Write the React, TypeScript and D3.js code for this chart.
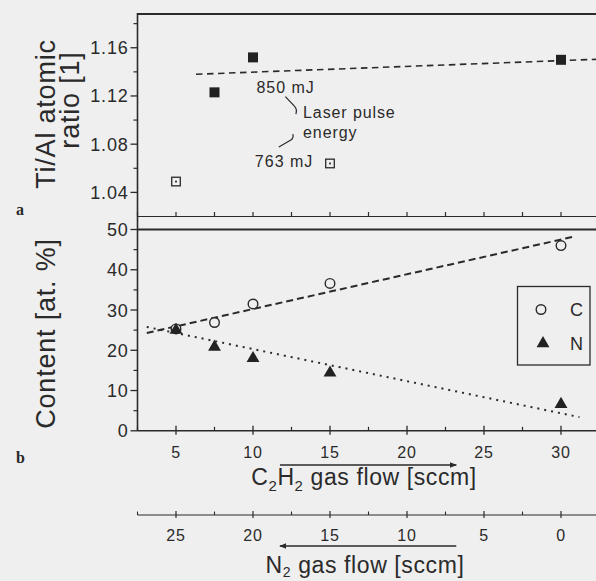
import React from "react";
import * as d3 from "d3";

// ---------- data ----------
// Panel a: Ti/Al atomic ratio vs C2H2 gas flow
const ratioFlow = [5, 7.5, 10, 15, 30];
const ratioValues = [1.049, 1.123, 1.152, 1.064, 1.15];
const ratioEnergy = [763, 850, 850, 763, 850]; // laser pulse energy [mJ]
const ratioFitFlow = [6.3, 32.5];
const ratioFitValues = [1.138, 1.1505];
const ratioMajorTicks = [1.04, 1.08, 1.12, 1.16];
const ratioMinorTicks = [1.06, 1.1, 1.14, 1.18];

// Panel b: C and N content vs C2H2 gas flow
const c2h2Flow = [5, 7.5, 10, 15, 30];
const carbonContent = [25.3, 26.9, 31.5, 36.6, 46];
const nitrogenContent = [25, 20.8, 18, 14.4, 6.6];
const carbonFitFlow = [3.1, 30.8];
const carbonFitValues = [24.3, 48.2];
const nitrogenFitFlow = [3.1, 31.2];
const nitrogenFitValues = [25.8, 3.4];
const contentMajorTicks = [0, 10, 20, 30, 40, 50];
const contentMinorTicks = [5, 15, 25, 35, 45];
const c2h2MajorTicks = [5, 10, 15, 20, 25, 30];
const c2h2MinorTicks = [2.5, 7.5, 12.5, 17.5, 22.5, 27.5, 32.5];
const n2MajorTicks = [25, 20, 15, 10, 5, 0];
const n2MinorTicks = [27.5, 22.5, 17.5, 12.5, 7.5, 2.5];
const totalFlow = 30; // C2H2 + N2 = 30 sccm

const INK = "#2a2a2a";
const BG = "#efefef";
const FONT = "'Liberation Sans', Arial, sans-serif";

export default function App() {
  const W = 596;
  const H = 581;

  const x = d3.scaleLinear().domain([2.5, 32.5]).range([137.5, 599.5]);
  const xN2 = (v: number) => x(totalFlow - v);
  const yTop = d3.scaleLinear().domain([1.02, 1.188]).range([216.5, 14]);
  const yBot = d3.scaleLinear().domain([0, 50]).range([430.8, 229.5]);

  const left = x(2.5);
  const right = 600;
  const topPanelBottom = 216.5;
  const botPanelTop = yBot(50);
  const botAxisY = yBot(0);
  const n2AxisY = 515;

  const line = d3.line<[number, number]>();
  const topFit = line(ratioFitFlow.map((f, i) => [x(f), yTop(ratioFitValues[i])] as [number, number]));
  const cFit = line(carbonFitFlow.map((f, i) => [x(f), yBot(carbonFitValues[i])] as [number, number]));
  const nFit = line(nitrogenFitFlow.map((f, i) => [x(f), yBot(nitrogenFitValues[i])] as [number, number]));

  const tri = d3.symbol(d3.symbolTriangle, 72)() as string;

  const tickText = { fontFamily: FONT, fill: INK, letterSpacing: 0.8 } as const;

  // annotation anchors (data coordinates)
  const a850 = { x: x(10.22), y: yTop(1.1223) };
  const a763 = { x: x(10.12), y: yTop(1.061) };
  const aLaser = { x: x(13.25), y: yTop(1.1014) };

  return (
    <svg
      width={W}
      height={H}
      viewBox={`0 0 ${W} ${H}`}
      style={{ position: "absolute", left: 0, top: 0, background: BG }}
    >
      <rect x={0} y={0} width={W} height={H} fill={BG} />

      {/* ===== Panel a frame ===== */}
      <line x1={left} x2={right} y1={14} y2={14} stroke={INK} strokeWidth={2} />
      <line x1={left} x2={right} y1={topPanelBottom} y2={topPanelBottom} stroke={INK} strokeWidth={1.2} />
      <line x1={left} x2={left} y1={13} y2={botAxisY} stroke={INK} strokeWidth={1.6} />
      {c2h2MajorTicks.concat(c2h2MinorTicks).map((t) => (
        <line key={"ta" + t} x1={x(t)} x2={x(t)} y1={topPanelBottom} y2={topPanelBottom - 4.5} stroke={INK} strokeWidth={1.2} />
      ))}
      {ratioMajorTicks.map((t) => (
        <g key={"rm" + t}>
          <line x1={left - 7} x2={left} y1={yTop(t)} y2={yTop(t)} stroke={INK} strokeWidth={1.3} />
          <text x={128.5} y={yTop(t)} dy="0.36em" textAnchor="end" fontSize={18} {...tickText}>
            {t.toFixed(2)}
          </text>
        </g>
      ))}
      {ratioMinorTicks.map((t) => (
        <line key={"rn" + t} x1={left - 4} x2={left} y1={yTop(t)} y2={yTop(t)} stroke={INK} strokeWidth={1.2} />
      ))}

      {/* Panel a fit + points */}
      <path d={topFit || ""} fill="none" stroke={INK} strokeWidth={1.6} strokeDasharray="6.5,4.5" />
      {ratioFlow.map((f, i) => {
        const cx = x(f);
        const cy = yTop(ratioValues[i]);
        return ratioEnergy[i] === 850 ? (
          <rect key={"rp" + i} x={cx - 5} y={cy - 5} width={10} height={10} fill="#222" />
        ) : (
          <g key={"rp" + i}>
            <rect x={cx - 4.3} y={cy - 4.3} width={8.6} height={8.6} fill="none" stroke={INK} strokeWidth={1.3} />
            <rect x={cx - 0.9} y={cy - 0.9} width={1.8} height={1.8} fill={INK} />
          </g>
        );
      })}

      {/* annotations */}
      <text x={a850.x} y={a850.y} fontSize={16} fontFamily={FONT} fill={INK} letterSpacing={1}>
        850 mJ
      </text>
      <text x={a763.x} y={a763.y} fontSize={16} fontFamily={FONT} fill={INK} letterSpacing={1}>
        763 mJ
      </text>
      <text x={aLaser.x} y={aLaser.y} fontSize={16} fontFamily={FONT} fill={INK} letterSpacing={0.9}>
        Laser pulse
      </text>
      <text x={aLaser.x} y={aLaser.y + 20} fontSize={16} fontFamily={FONT} fill={INK} letterSpacing={0.9}>
        energy
      </text>
      <path
        d={`M${a850.x + 29},${a850.y + 3.5} L${a850.x + 38},${a850.y + 13} Q${a850.x + 41},${a850.y + 16} ${a850.x + 39.5},${a850.y + 21}`}
        fill="none"
        stroke={INK}
        strokeWidth={1.2}
      />
      <path
        d={`M${a763.x + 24},${a763.y - 20} L${a763.x + 36},${a763.y - 27} Q${a763.x + 39},${a763.y - 29} ${a763.x + 38},${a763.y - 33}`}
        fill="none"
        stroke={INK}
        strokeWidth={1.2}
      />

      <text x={16} y={215} fontSize={16} fontWeight="bold" fontFamily="'Liberation Serif', serif" fill={INK}>
        a
      </text>

      {/* Panel a y label */}
      <text
        transform={`translate(55,114) rotate(-90)`}
        textAnchor="middle"
        fontSize={27}
        fontFamily={FONT}
        fill={INK}
        letterSpacing={0.8}
      >
        Ti/Al atomic
      </text>
      <text
        transform={`translate(78.5,100) rotate(-90)`}
        textAnchor="middle"
        fontSize={27}
        fontFamily={FONT}
        fill={INK}
        letterSpacing={0.8}
      >
        ratio [1]
      </text>

      {/* ===== Panel b frame ===== */}
      <line x1={left} x2={right} y1={botPanelTop} y2={botPanelTop} stroke={INK} strokeWidth={2.2} />
      <line x1={left} x2={right} y1={botAxisY} y2={botAxisY} stroke={INK} strokeWidth={1.5} />
      {contentMajorTicks.map((t) => (
        <g key={"cm" + t}>
          <line x1={left - 7} x2={left} y1={yBot(t)} y2={yBot(t)} stroke={INK} strokeWidth={1.3} />
          <text x={128.5} y={yBot(t)} dy="0.36em" textAnchor="end" fontSize={18} {...tickText}>
            {t}
          </text>
        </g>
      ))}
      {contentMinorTicks.map((t) => (
        <line key={"cn" + t} x1={left - 4} x2={left} y1={yBot(t)} y2={yBot(t)} stroke={INK} strokeWidth={1.2} />
      ))}
      {c2h2MajorTicks.map((t) => (
        <g key={"xm" + t}>
          <line x1={x(t)} x2={x(t)} y1={botAxisY - 5} y2={botAxisY + 4} stroke={INK} strokeWidth={1.3} />
          <text x={x(t)} y={458} textAnchor="middle" fontSize={16} {...tickText}>
            {t}
          </text>
        </g>
      ))}
      {c2h2MinorTicks.map((t) => (
        <line key={"xn" + t} x1={x(t)} x2={x(t)} y1={botAxisY - 4} y2={botAxisY} stroke={INK} strokeWidth={1.2} />
      ))}

      {/* fits */}
      <path d={cFit || ""} fill="none" stroke={INK} strokeWidth={2} strokeDasharray="7,4" />
      <path d={nFit || ""} fill="none" stroke={INK} strokeWidth={2} strokeDasharray="2,5" strokeLinecap="butt" />

      {/* points */}
      {c2h2Flow.map((f, i) => (
        <circle key={"c" + i} cx={x(f)} cy={yBot(carbonContent[i])} r={4.8} fill={BG} stroke={INK} strokeWidth={1.4} />
      ))}
      {c2h2Flow.map((f, i) => (
        <path key={"n" + i} d={tri} transform={`translate(${x(f)},${yBot(nitrogenContent[i])})`} fill="#222" />
      ))}

      {/* legend */}
      <rect x={517.5} y={286.5} width={72.5} height={78.5} fill="none" stroke={INK} strokeWidth={1.3} />
      <circle cx={541} cy={309.5} r={4.8} fill="none" stroke={INK} strokeWidth={1.4} />
      <text x={570} y={315.5} fontSize={18} fontFamily={FONT} fill={INK}>
        C
      </text>
      <path d={tri} transform={`translate(543,343.5)`} fill="#222" />
      <text x={570} y={349.5} fontSize={18} fontFamily={FONT} fill={INK}>
        N
      </text>

      <text x={16} y={463} fontSize={16} fontWeight="bold" fontFamily="'Liberation Serif', serif" fill={INK}>
        b
      </text>

      {/* Panel b y label */}
      <text
        transform={`translate(55,333.5) rotate(-90)`}
        textAnchor="middle"
        fontSize={27}
        fontFamily={FONT}
        fill={INK}
        letterSpacing={0.8}
      >
        Content [at. %]
      </text>

      {/* C2H2 arrow and title */}
      <defs>
        <marker id="ah" viewBox="0 0 10 10" refX={9} refY={5} markerWidth={7} markerHeight={7} orient="auto-start-reverse" markerUnits="userSpaceOnUse">
          <path d="M0,1 L10,5 L0,9 z" fill={INK} />
        </marker>
      </defs>
      <line x1={x(11.75)} x2={x(23.2)} y1={465} y2={465} stroke={INK} strokeWidth={1.3} markerEnd="url(#ah)" />
      <text x={364} y={485} textAnchor="middle" fontSize={23} fontFamily={FONT} fill={INK} letterSpacing={0.6}>
        C<tspan fontSize={15} dy={6}>2</tspan>
        <tspan dy={-6}>H</tspan>
        <tspan fontSize={15} dy={6}>2</tspan>
        <tspan dy={-6}> gas flow [sccm]</tspan>
      </text>

      {/* N2 axis */}
      <line x1={xN2(27.5)} x2={right} y1={n2AxisY} y2={n2AxisY} stroke={INK} strokeWidth={1.2} />
      {n2MajorTicks.map((t) => (
        <g key={"nm" + t}>
          <line x1={xN2(t)} x2={xN2(t)} y1={n2AxisY - 4} y2={n2AxisY + 3} stroke={INK} strokeWidth={1.2} />
          <text x={xN2(t)} y={541} textAnchor="middle" fontSize={16} {...tickText}>
            {t}
          </text>
        </g>
      ))}
      {n2MinorTicks.map((t) => (
        <line key={"nn" + t} x1={xN2(t)} x2={xN2(t)} y1={n2AxisY - 3.5} y2={n2AxisY} stroke={INK} strokeWidth={1.1} />
      ))}
      <line x1={xN2(18.25)} x2={xN2(6.8)} y1={546} y2={546} stroke={INK} strokeWidth={1.3} markerStart="url(#ah)" />
      <text x={365} y={572.5} textAnchor="middle" fontSize={23} fontFamily={FONT} fill={INK} letterSpacing={0.6}>
        N<tspan fontSize={14} dy={4.5}>2</tspan>
        <tspan dy={-4.5}> gas flow [sccm]</tspan>
      </text>
    </svg>
  );
}
